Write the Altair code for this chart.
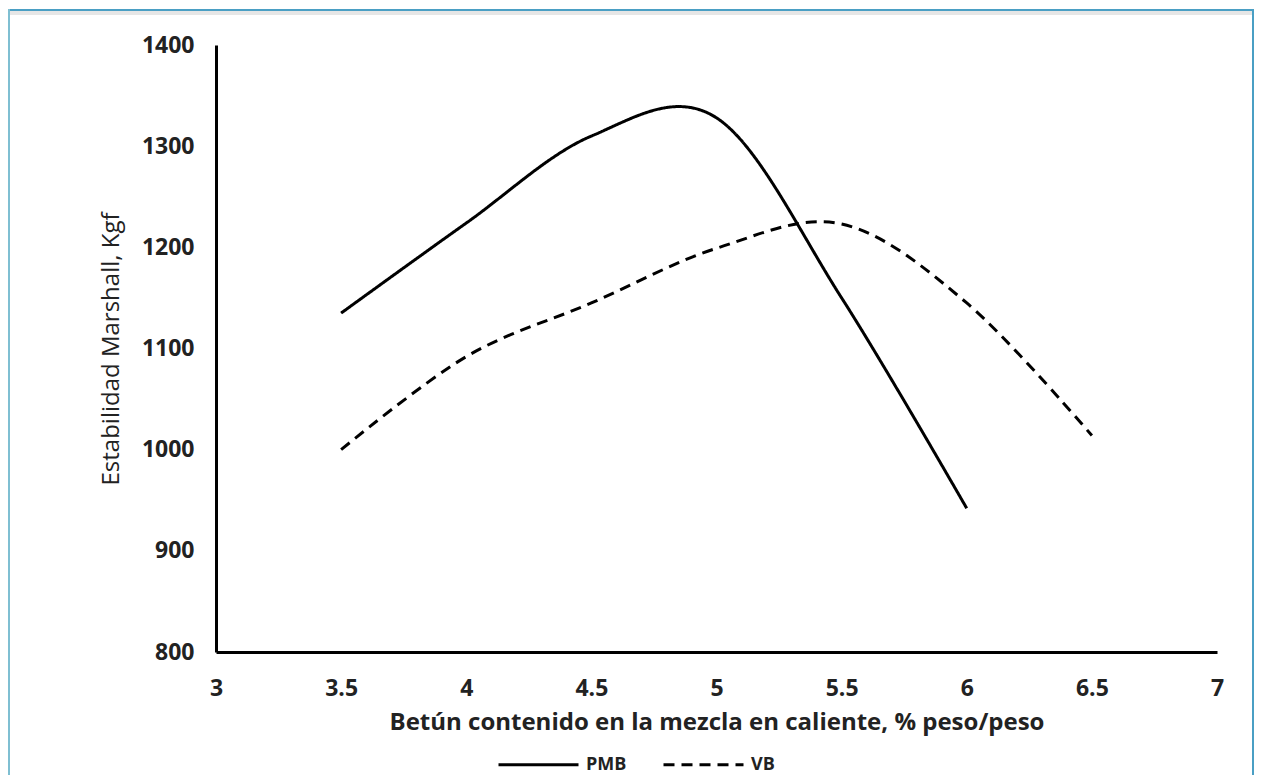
import altair as alt
import pandas as pd

# data
x_pmb = [3.5, 4.0, 4.5, 5.0, 5.5, 6.0]
y_pmb = [1135, 1224, 1310, 1328, 1150, 942]
x_vb = [3.5, 4.0, 4.5, 5.0, 5.5, 6.0, 6.5]
y_vb = [1000, 1092, 1145, 1199, 1223, 1145, 1014]
series = ["PMB", "VB"]
x_ticks = [3, 3.5, 4, 4.5, 5, 5.5, 6, 6.5, 7]
y_ticks = [800, 900, 1000, 1100, 1200, 1300, 1400]

df = pd.concat([
    pd.DataFrame({"x": x_pmb, "y": y_pmb, "serie": series[0]}),
    pd.DataFrame({"x": x_vb, "y": y_vb, "serie": series[1]}),
])

FONT = "Open Sans"

lines = alt.Chart(df).mark_line(
    interpolate="cardinal", color="black", strokeWidth=3, strokeCap="butt"
).encode(
    x=alt.X("x:Q",
            scale=alt.Scale(domain=[3, 7], nice=False, zero=False),
            axis=alt.Axis(values=x_ticks, title="Betún contenido en la mezcla en caliente, % peso/peso",
                          labelExpr="datum.value", labelPadding=25, titlePadding=10)),
    y=alt.Y("y:Q",
            scale=alt.Scale(domain=[800, 1400], nice=False, zero=False),
            axis=alt.Axis(values=y_ticks, title="Estabilidad Marshall, Kgf", format="d",
                          labelPadding=22, titlePadding=18, titleFontWeight="normal",
                          titleFontSize=24)),
    strokeDash=alt.StrokeDash(
        "serie:N",
        scale=alt.Scale(domain=series, range=[[1, 0], [11, 7]]),
        legend=alt.Legend(title=None, orient="none", direction="horizontal",
                          legendX=281, legendY=678, symbolType="stroke",
                          symbolSize=6400, symbolStrokeWidth=3,
                          symbolStrokeColor="black", labelFontSize=18,
                          labelFont=FONT, labelFontWeight="bold", labelColor="#222",
                          columnPadding=30, labelOffset=6),
    ),
    detail="serie:N",
)

# decorative frame around the figure
frame_top = alt.Chart(df).mark_rule(color="#4a9fc4", strokeWidth=2).encode(
    x=alt.value(-208), x2=alt.value(1038), y=alt.value(-35))
frame_left = alt.Chart(df).mark_rule(color="#7fbfd2", strokeWidth=2).encode(
    x=alt.value(-207), y=alt.value(-36), y2=alt.value(740))
frame_right = alt.Chart(df).mark_rule(color="#4a9fc4", strokeWidth=2).encode(
    x=alt.value(1037), y=alt.value(-36), y2=alt.value(740))
frame_band = alt.Chart(df).mark_rule(color="#e6e6e6", strokeWidth=3).encode(
    x=alt.value(-206), x2=alt.value(1036), y=alt.value(-32))

chart = alt.layer(frame_band, frame_top, frame_left, frame_right, lines).properties(
    width=1001, height=607,
    autosize=alt.AutoSizeParams(type="none"),
    padding={"left": 208, "top": 37, "right": 38, "bottom": 123},
    background="white",
).configure_view(stroke=None).configure_axis(
    grid=False, ticks=False, domainColor="black", domainWidth=3,
    labelFont=FONT, labelFontSize=23, labelFontWeight="bold", labelColor="#222",
    titleFont=FONT, titleFontSize=24, titleFontWeight="bold", titleColor="#222",
    labelFlush=False,
)

chart.save("out.html", embed_options={"renderer": "svg", "actions": False})
